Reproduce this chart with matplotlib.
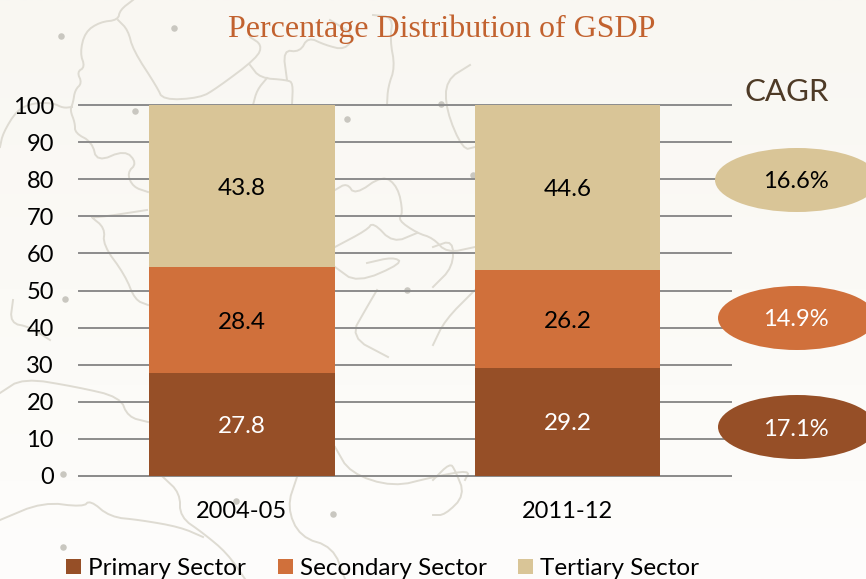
import matplotlib
matplotlib.use('Agg')
import matplotlib.pyplot as plt
from matplotlib.patches import Ellipse
import numpy as np

plt.rcParams['font.family'] = ['Lato', 'DejaVu Sans']

years = ['2004-05', '2011-12']
sectors = ['Primary Sector', 'Secondary Sector', 'Tertiary Sector']
primary = [27.8, 29.2]
secondary = [28.4, 26.2]
tertiary = [43.8, 44.6]
cagr = ['17.1%', '14.9%', '16.6%']
colors = ['#964F27', '#D0703B', '#D9C597']
label_colors = ['white', 'black', 'black']
cagr_colors = ['white', 'white', 'black']

W, H = 866, 579

# faint map behind the chart, traced by eye in image pixels
map_lines = [
    [(133,0),(120,10),(118,20),(100,22),(85,32),(80,53),(85,67),(77,72),(82,83),(75,90),(73,103),(70,110),(75,123),(75,133),(92,142),(97,162),(125,150),(137,163),(127,173),(133,187),(148,192)],
    [(118,20),(128,30),(133,50),(157,87),(163,100),(200,98),(217,88),(257,58),(262,45),(250,37)],
    [(250,65),(260,78),(287,80),(293,83),(292,105)],
    [(287,80),(283,50),(300,52),(308,37),(325,45),(345,50),(355,35),(330,20)],
    [(267,78),(257,90),(253,105)],
    [(0,147),(3,133),(17,110),(33,103),(53,103),(63,108),(72,107)],
    [(387,105),(388,87),(395,67),(390,40),(393,17),(373,15)],
    [(335,190),(347,183),(355,195),(383,175),(398,187),(403,213),(398,220),(417,233),(433,238),(447,253),(475,247)],
    [(335,247),(367,230),(373,222),(393,243),(417,233)],
    [(335,267),(357,283),(403,263),(393,257),(367,263)],
    [(147,210),(95,218),(90,216),(105,228),(103,245),(125,275),(135,300),(148,305)],
    [(0,393),(23,378),(77,387),(120,397),(128,417),(148,422)],
    [(163,477),(180,493),(180,517),(203,533),(227,553),(245,579)],
    [(0,520),(43,502),(83,507),(90,500),(110,517),(140,520),(180,527),(203,537)],
    [(297,477),(287,507),(300,537),(333,547),(345,579)],
    [(388,357),(350,337),(367,307),(377,290)],
    [(335,447),(350,473),(393,487),(433,477),(470,470),(465,480)],
    [(470,65),(446,80),(446,110),(463,150),(475,147)],
    [(433,247),(453,240),(453,267),(433,287)],
    [(475,290),(445,320),(433,345)],
    [(433,480),(450,463),(455,470),(465,495),(445,515),(433,515)],
    [(13,300),(10,323),(30,327),(50,340)],
]
map_dots = [(61,36),(174,28),(135,111),(347,119),(441,104),(473,175),(65,299),(63,474),(63,547),(236,501),(333,514),(407,290)]


def soften(line):
    # rounds the corners of a traced map line
    p = np.array(line, dtype=float)
    for _ in range(2):
        a = 0.75 * p[:-1] + 0.25 * p[1:]
        b = 0.25 * p[:-1] + 0.75 * p[1:]
        p = np.vstack([p[0], np.column_stack([a, b]).reshape(-1, 2), p[-1]])
    return p


fig = plt.figure(figsize=(W / 100, H / 100), dpi=100, facecolor='#FBFAF6')

# backdrop axes in pixel coordinates, y pointing down
bg = fig.add_axes([0, 0, 1, 1], zorder=0)
bg.axis('off')
bg.imshow(np.linspace(0, 1, 200).reshape(-1, 1), extent=(0, W, H, 0), aspect='auto',
          cmap=matplotlib.colors.LinearSegmentedColormap.from_list('paper', ['#F9F7F2', '#FBFAF6', '#FEFDFC']))
for line in map_lines:
    p = soften(line)
    bg.plot(p[:, 0], p[:, 1], color='#DEDBD2', lw=1.4, solid_joinstyle='round')
bg.scatter(*zip(*map_dots), s=22, color='#C9C7C0', linewidths=0)
bg.set_xlim(0, W)
bg.set_ylim(H, 0)

ax = fig.add_axes([79 / W, 1 - 476 / H, (730.5 - 79) / W, (476 - 105) / H], zorder=1)
ax.patch.set_alpha(0)

x = np.arange(len(years))
bottom = np.zeros(len(years))
for name, vals, c, lc in zip(sectors, [primary, secondary, tertiary], colors, label_colors):
    ax.bar(x, vals, width=0.57, bottom=bottom, color=c, label=name, zorder=3)
    for xi, b, v in zip(x, bottom, vals):
        ax.annotate(f'{v:.1f}', (xi, b + v / 2), xytext=(0, -1.5), textcoords='offset points',
                    ha='center', va='center', color=lc, fontsize=17.5, zorder=4)
    bottom += np.array(vals)

ax.set_xlim(-0.5, 1.5)
ax.set_ylim(0, 100)
ax.set_yticks(range(0, 101, 10))
ax.set_xticks(x, years)
ax.grid(axis='y', color='#8C8C8C', lw=1.4, zorder=1, clip_on=False)
ax.set_axisbelow(True)
for s in ['top', 'right', 'left']:
    ax.spines[s].set_visible(False)
ax.spines['bottom'].set_color('#8C8C8C')
ax.spines['bottom'].set_linewidth(1.4)
ax.tick_params(axis='both', length=0, labelsize=17, labelcolor='black')
ax.tick_params(axis='x', pad=18)
ax.tick_params(axis='y', pad=18)

fig.text(442 / W, 1 - 29 / H, 'Percentage Distribution of GSDP', ha='center', va='center',
         family='Liberation Serif', fontsize=23, color='#C2622F')
fig.text(787 / W, 1 - 92 / H, 'CAGR', ha='center', va='center', fontsize=22.5, color='#4E3A26')

# CAGR ovals on the right, bottom to top
over = fig.add_axes([0, 0, 1, 1], zorder=2)
over.set_xlim(0, W)
over.set_ylim(H, 0)
over.axis('off')
for txt, c, tc, cy, left in zip(cagr, colors, cagr_colors, [427, 318, 180], [718, 718, 715]):
    over.add_patch(Ellipse((797, cy), 2 * (797 - left), 64, color=c, lw=0))
    over.text(796, cy + 2, txt, ha='center', va='center', color=tc, fontsize=17)

fig.legend(*ax.get_legend_handles_labels(), loc='lower left', bbox_to_anchor=(66 / W, 0 / H), ncol=3,
           frameon=False, fontsize=17.5, handlelength=0.62, handleheight=0.62, handletextpad=0.29,
           columnspacing=1.3, borderpad=0, borderaxespad=0)

fig.savefig('out.png', dpi=100, facecolor=fig.get_facecolor())
